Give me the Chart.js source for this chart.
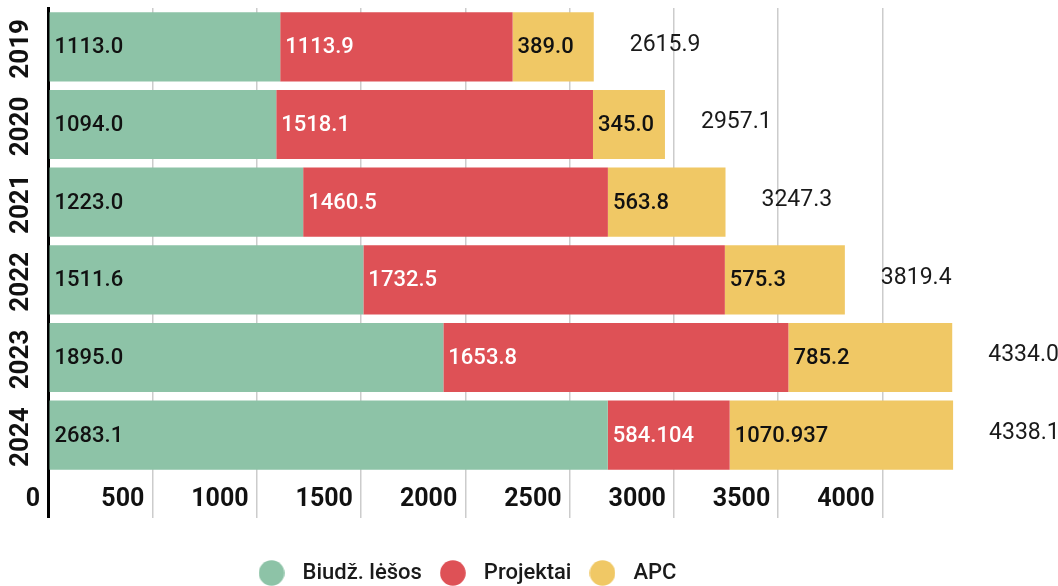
<!DOCTYPE html>
<html>
<head>
<meta charset="utf-8">
<script src="https://cdn.jsdelivr.net/npm/chart.js@4"></script>
<style>
  html, body { margin: 0; padding: 0; background: #fff; }
  #wrap { width: 1058px; height: 586px; }
</style>
</head>
<body>
<div id="wrap"><canvas id="myChart"></canvas></div>
<script>
// data
const years = ["2019", "2020", "2021", "2022", "2023", "2024"];
const biudzetas = [1113.0, 1094.0, 1223.0, 1511.6, 1895.0, 2683.1];
const projektai = [1113.9, 1518.1, 1460.5, 1732.5, 1653.8, 584.104];
const apc = [389.0, 345.0, 563.8, 575.3, 785.2, 1070.937];
const totals = [2615.9, 2957.1, 3247.3, 3819.4, 4334.0, 4338.1];
const xTicks = [0, 500, 1000, 1500, 2000, 2500, 3000, 3500, 4000];
const colors = ["#8dc3a7", "#de5156", "#f0c865"];

const FONT = "Roboto";

// format like the original: at least one decimal
function fmt(v) {
  var s = String(v);
  return s.indexOf(".") >= 0 ? s : v.toFixed(1);
}

// small round markers for the legend
function makeDot(color) {
  const c = document.createElement("canvas");
  c.width = 26;
  c.height = 26;
  const g = c.getContext("2d");
  g.fillStyle = color;
  g.beginPath();
  g.arc(13, 13, 12.8, 0, Math.PI * 2);
  g.fill();
  return c;
}
const dots = colors.map(makeDot);

// nudge the legend a little (left and down) like in the original
const legendShift = {
  id: "legendShift",
  afterLayout(chart) {
    const lg = chart.legend;
    lg.left -= 19;
    lg.right -= 19;
    lg.top += 6;
    lg.bottom += 6;
  },
};

// draw the numbers inside the bars, the totals and the rotated year labels
const labelsPlugin = {
  id: "labelsPlugin",
  afterDatasetsDraw(chart) {
    const ctx = chart.ctx;
    ctx.save();
    ctx.textBaseline = "middle";
    ctx.textAlign = "left";
    for (let d = 0; d < 3; d++) {
      const meta = chart.getDatasetMeta(d);
      const values = chart.data.datasets[d].data;
      ctx.font = "500 22px " + FONT;
      ctx.fillStyle = d === 1 ? "#ffffff" : "#111111";
      meta.data.forEach((bar, i) => {
        const p = bar.getProps(["x", "y", "base"], true);
        ctx.fillText(fmt(values[i]), Math.min(p.base, p.x) + 5, p.y + 1);
      });
    }
    // totals to the right of the stack
    const last = chart.getDatasetMeta(2);
    ctx.font = "400 23px " + FONT;
    ctx.fillStyle = "#1a1a1a";
    last.data.forEach((bar, i) => {
      const p = bar.getProps(["x", "y"], true);
      ctx.fillText(totals[i].toFixed(1), p.x + 36, p.y - 2);
    });
    // year labels
    const yScale = chart.scales.y;
    ctx.font = "bold 26px " + FONT;
    ctx.fillStyle = "#111111";
    ctx.textAlign = "center";
    yScale.ticks.forEach((t, i) => {
      const y = yScale.getPixelForTick(i);
      ctx.save();
      ctx.translate(21, y + 2);
      ctx.rotate(-Math.PI / 2);
      ctx.fillText(years[i], 0, 0);
      ctx.restore();
    });
    ctx.restore();
  },
};

const chartData = {
  labels: years,
  datasets: [
    { label: "Biudž. lėšos", data: biudzetas, backgroundColor: colors[0] },
    { label: "Projektai", data: projektai, backgroundColor: colors[1] },
    { label: "APC", data: apc, backgroundColor: colors[2] },
  ],
};

const config = {
  type: "bar",
  data: chartData,
  plugins: [labelsPlugin, legendShift],
  options: {
    indexAxis: "y",
    responsive: true,
    maintainAspectRatio: false,
    animation: false,
    datasets: {
      bar: { categoryPercentage: 1, barPercentage: 0.89, borderWidth: 0 },
    },
    layout: { padding: { top: 8, right: 92, left: 0, bottom: -2 } },
    scales: {
      x: {
        stacked: true,
        min: 0,
        max: 4400,
        border: { display: false },
        grid: {
          color: (c) => (c.index === 0 ? "#000000" : "#cccccc"),
          lineWidth: (c) => (c.index === 0 ? 3 : 1.5),
          tickLength: 44,
        },
        afterBuildTicks: (scale) => {
          scale.ticks = xTicks.map((v) => ({ value: v }));
        },
        ticks: {
          align: "end",
          labelOffset: -8,
          padding: -33,
          maxRotation: 0,
          autoSkip: false,
          color: "#111111",
          font: { family: FONT, size: 25, weight: "bold" },
          callback: (v) => String(v),
        },
        afterFit: (scale) => {
          scale.height = 71;
        },
      },
      y: {
        stacked: true,
        grid: { display: false },
        border: { color: "#000000", width: 3 },
        ticks: { display: false },
        afterFit: (scale) => {
          scale.width = 48;
        },
      },
    },
    plugins: {
      tooltip: { enabled: false },
      legend: {
        position: "bottom",
        labels: {
          usePointStyle: true,
          boxHeight: 22,
          pointStyleWidth: 40,
          padding: 11,
          color: "#1a1a1a",
          font: { family: FONT, size: 22, weight: "500" },
          generateLabels: (chart) => {
            const items = Chart.defaults.plugins.legend.labels.generateLabels(chart);
            items.forEach((it, i) => {
              it.pointStyle = dots[i];
            });
            return items;
          },
        },
      },
    },
  },
};

const myChart = new Chart(document.getElementById("myChart"), config);
</script>
</body>
</html>
